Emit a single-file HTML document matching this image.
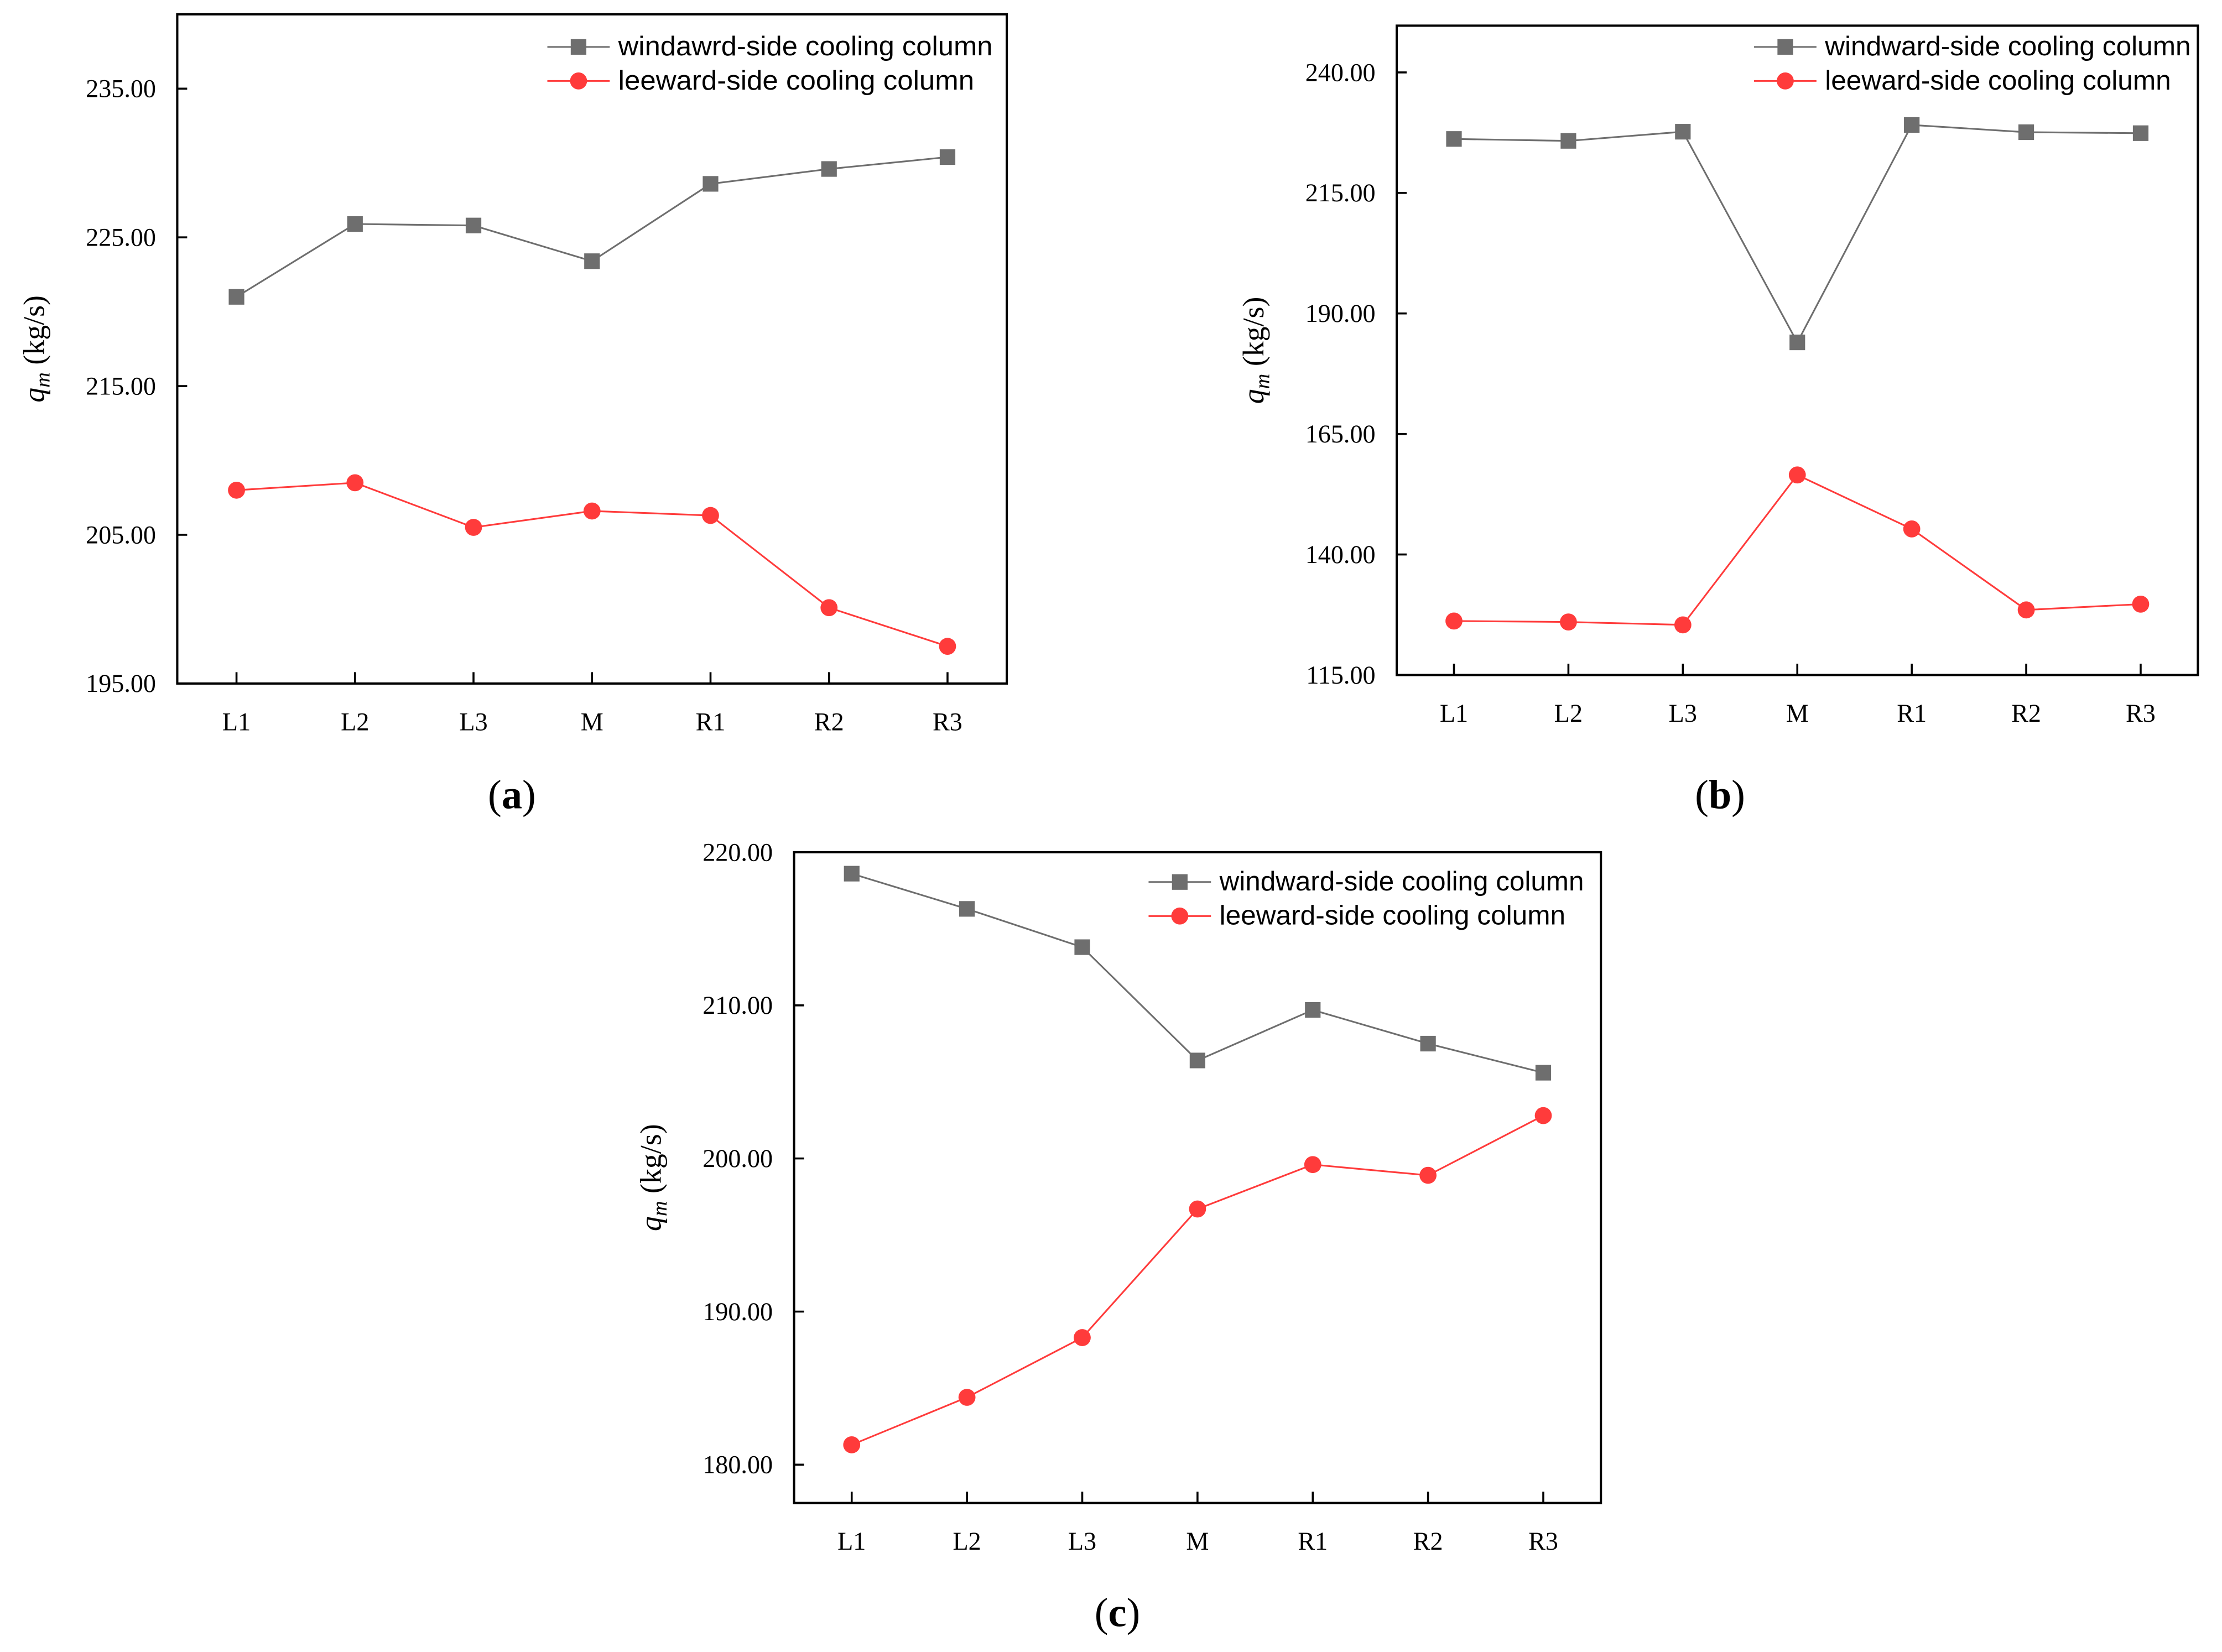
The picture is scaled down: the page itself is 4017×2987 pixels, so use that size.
<!DOCTYPE html>
<html><head><meta charset="utf-8"><style>
html,body{margin:0;padding:0;background:#fff;}
svg{display:block;}
.tick{font-family:"Liberation Serif",serif;font-size:18px;fill:#000;}
.leg{font-family:"Liberation Sans",sans-serif;font-size:19px;fill:#000;}
.yl{font-family:"Liberation Serif",serif;font-size:21px;fill:#000;}
.pl{font-family:"Liberation Serif",serif;font-size:29px;fill:#000;}
</style></head><body>
<svg id="fig" width="4017" height="2987" viewBox="0 0 1567 1165" xmlns="http://www.w3.org/2000/svg"></svg>
<script>
const categories = ["L1","L2","L3","M","R1","R2","R3"];
const aWind = [221.0, 225.9, 225.8, 223.4, 228.6, 229.6, 230.4];
const aLee = [208.0, 208.5, 205.5, 206.6, 206.3, 200.1, 197.5];
const aTicks = [195, 205, 215, 225, 235];
const bWind = [226.2, 225.8, 227.7, 184.0, 229.1, 227.6, 227.4];
const bLee = [126.2, 126.0, 125.4, 156.5, 145.3, 128.5, 129.7];
const bTicks = [115, 140, 165, 190, 215, 240];
const cWind = [218.6, 216.3, 213.8, 206.4, 209.7, 207.5, 205.6];
const cLee = [181.3, 184.4, 188.3, 196.7, 199.6, 198.9, 202.8];
const cTicks = [180, 190, 200, 210, 220];

const NS="http://www.w3.org/2000/svg";
const svg=document.getElementById('fig');
function mk(tag,attrs,parent){const e=document.createElementNS(NS,tag);for(const k in attrs)e.setAttribute(k,attrs[k]);(parent||svg).appendChild(e);return e;}

function panel(id,box,ymin,ymax,ticks,wind,lee,windLabel,legX,legY,len1,len2,panelLabel,plX,plY){
  const g=mk('g',{});
  
  
  const w=box.x2-box.x1;
  const xs=i=>box.x1+(i+0.5)*w/categories.length;
  const ys=v=>box.y2-(v-ymin)/(ymax-ymin)*(box.y2-box.y1);
  const frame=mk('rect',{x:box.x1,y:box.y1,width:w,height:box.y2-box.y1,fill:'none',stroke:'#000','stroke-width':1.6},g);
  
  
  ticks.forEach(t=>{
    const y=ys(t);
    mk('line',{x1:box.x1,x2:box.x1+7,y1:y,y2:y,stroke:'#000','stroke-width':1.4},g);
    const tx=mk('text',{x:box.x1-15,y:y+6,'text-anchor':'end',class:'tick'},g);
    tx.textContent=t.toFixed(2);
    
    
  });
  categories.forEach((c,i)=>{
    const x=xs(i);
    mk('line',{x1:x,x2:x,y1:box.y2,y2:box.y2-8,stroke:'#000','stroke-width':1.4},g);
    const tx=mk('text',{x:x,y:box.y2+33,'text-anchor':'middle',class:'tick'},g);
    tx.textContent=c;
    
    
  });
  const yl=mk('text',{transform:`translate(${box.x1-94},${(box.y1+box.y2)/2}) rotate(-90)`,'text-anchor':'middle',class:'yl'},g);
  yl.innerHTML='<tspan font-style="italic">q</tspan><tspan font-style="italic" font-size="15" dy="4">m</tspan><tspan dy="-4"> (kg/s)</tspan>';
  
  
  const gp=mk('polyline',{points:wind.map((v,i)=>xs(i)+','+ys(v)).join(' '),fill:'none',stroke:'#6e6e6e','stroke-width':1.2},g);
  
  
  wind.forEach((v,i)=>{
    const r=mk('rect',{x:xs(i)-5.5,y:ys(v)-5.5,width:11,height:11,fill:'#6e6e6e'},g);
    
    
  });
  const rp=mk('polyline',{points:lee.map((v,i)=>xs(i)+','+ys(v)).join(' '),fill:'none',stroke:'#ff3b3b','stroke-width':1.2},g);
  
  
  lee.forEach((v,i)=>{
    const c=mk('circle',{cx:xs(i),cy:ys(v),r:6,fill:'#ff3b3b'},g);
    
    
  });
  const lg=mk('g',{},g);
  
  
  mk('line',{x1:legX,x2:legX+44,y1:legY,y2:legY,stroke:'#6e6e6e','stroke-width':1.2},lg);
  mk('rect',{x:legX+16.5,y:legY-5.5,width:11,height:11,fill:'#6e6e6e'},lg);
  const t1=mk('text',{x:legX+50,y:legY+6,class:'leg',textLength:len1,lengthAdjust:'spacingAndGlyphs'},lg);t1.textContent=windLabel;
  
  
  mk('line',{x1:legX,x2:legX+44,y1:legY+24,y2:legY+24,stroke:'#ff3b3b','stroke-width':1.2},lg);
  mk('circle',{cx:legX+22,cy:legY+24,r:6,fill:'#ff3b3b'},lg);
  const t2=mk('text',{x:legX+50,y:legY+30,class:'leg',textLength:len2,lengthAdjust:'spacingAndGlyphs'},lg);t2.textContent='leeward-side cooling column';
  
  
  const pl=mk('text',{x:plX,y:plY,'text-anchor':'middle',class:'pl'},g);
  pl.innerHTML='(<tspan font-weight="bold">'+panelLabel+'</tspan>)';
  
  
}
panel('a',{x1:125,x2:710,y1:10,y2:482},195,240,aTicks,aWind,aLee,'windawrd-side cooling column',386,33,264,251,'a',361,570);
panel('b',{x1:985,x2:1550,y1:18,y2:476},115,249.7,bTicks,bWind,bLee,'windward-side cooling column',1237,33,258,244,'b',1213,570);
panel('c',{x1:560,x2:1129,y1:601,y2:1060},177.5,220,cTicks,cWind,cLee,'windward-side cooling column',810,622,257,244,'c',788,1147);
</script>
</body></html>
